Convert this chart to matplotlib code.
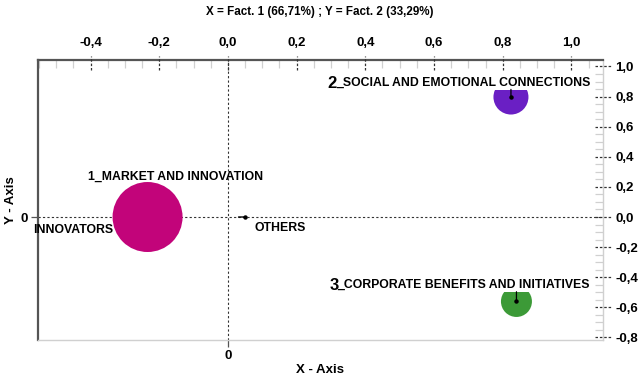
import matplotlib
matplotlib.use("Agg")
import matplotlib.pyplot as plt
from matplotlib import font_manager
import matplotlib.transforms as mtransforms
from matplotlib.ticker import MultipleLocator, FixedLocator

# ---------------- data ----------------
title = "X = Fact. 1 (66,71%) ; Y = Fact. 2 (33,29%)"
cluster_num = ["1", "2", "3"]
cluster_names = ["_MARKET AND INNOVATION",
                 "_SOCIAL AND EMOTIONAL CONNECTIONS",
                 "_CORPORATE BENEFITS AND INITIATIVES"]
cluster_x = [-0.234, 0.824, 0.840]
cluster_y = [0.0, 0.797, -0.561]
cluster_weight = [1.0, 0.25, 0.196]          # relative bubble area
group_names = ["INNOVATORS", "OTHERS"]
group_x = [-0.234, 0.049]
group_y = [0.0, 0.0]
xticks = [-0.4, -0.2, 0.0, 0.2, 0.4, 0.6, 0.8, 1.0]
yticks = [-0.8, -0.6, -0.4, -0.2, 0.0, 0.2, 0.4, 0.6, 0.8, 1.0]
x_label = "X - Axis"
y_label = "Y - Axis"

# ---------------- styles ----------------
cluster_colors = ["#C2047A", "#6A1FC4", "#3C9A37"]
names = {f.name for f in font_manager.fontManager.ttflist}
HAS_NARROW = "Liberation Sans Narrow" in names
NARROW = "Liberation Sans Narrow" if HAS_NARROW else "Liberation Sans"
ARIAL = "Liberation Sans"
DARK = "#555555"
LIGHT = "#d0d0d0"
TITLE_SIZE = 10 if HAS_NARROW else 8.4

def fmt(v):
    return f"{v:.1f}".replace(".", ",").replace("-0,0", "0,0")

fig = plt.figure(figsize=(6.4, 3.77), dpi=100)
W, H = 640, 377
L, R, T, B = 38, 603, 60, 340
ax = fig.add_axes([L / W, 1 - B / H, (R - L) / W, (B - T) / H])
ax.set_xlim(-0.553, 1.092)
ax.set_ylim(-0.817, 1.043)

# spines
for s in ("left", "top"):
    ax.spines[s].set_color(DARK)
    ax.spines[s].set_linewidth(1.6)
for s in ("bottom", "right"):
    ax.spines[s].set_color(LIGHT)
    ax.spines[s].set_linewidth(1.0)

# top axis
ax.xaxis.tick_top()
ax.xaxis.set_major_locator(FixedLocator(xticks))
ax.set_xticklabels([fmt(v) for v in xticks], fontfamily=NARROW,
                   fontweight="bold", fontsize=9.5)
ax.xaxis.set_minor_locator(MultipleLocator(0.05))
ax.tick_params(axis="x", which="major", length=0, pad=8)
ax.tick_params(axis="x", which="minor", direction="in", length=6,
               color=LIGHT, width=0.9, top=True, bottom=False)

# right axis
ax.yaxis.tick_right()
ax.yaxis.set_major_locator(FixedLocator(yticks))
ax.set_yticklabels([fmt(v) for v in yticks], fontfamily=NARROW,
                   fontweight="bold", fontsize=9.5)
ax.yaxis.set_minor_locator(MultipleLocator(0.05))
ax.tick_params(axis="y", which="major", length=0, pad=9)
ax.tick_params(axis="y", which="minor", direction="in", length=6,
               color=LIGHT, width=0.9, right=True, left=False)

# dashed major tick marks
bx = mtransforms.blended_transform_factory(ax.transData, ax.transAxes)
by = mtransforms.blended_transform_factory(ax.transAxes, ax.transData)
for v in xticks:
    ax.plot([v, v], [0.965, 1.015], transform=bx, ls=(0, (2, 1.5)),
            color="#333333", lw=0.9, clip_on=False, zorder=5)
for v in yticks:
    ax.plot([0.985, 1.016], [v, v], transform=by, ls=(0, (2, 1.5)),
            color="#333333", lw=0.9, clip_on=False, zorder=5)

# reference lines
ax.axvline(0, ls=(0, (2, 2)), color="#333333", lw=0.8, zorder=1)
ax.axhline(0, ls=(0, (2, 2)), color="#333333", lw=0.8, zorder=1)

# left "0" axis
sy = ax.secondary_yaxis("left")
sy.set_yticks([0])
sy.set_yticklabels(["0"], fontfamily=NARROW, fontweight="bold", fontsize=9.5)
sy.tick_params(length=5, color=DARK, width=0.9, pad=2)
for s in sy.spines.values():
    s.set_visible(False)
sy.set_ylabel(y_label, fontfamily=NARROW, fontweight="bold", fontsize=9.5,
              labelpad=3)

# bottom "0" axis
sx = ax.secondary_xaxis("bottom")
sx.set_xticks([0])
sx.set_xticklabels(["0"], fontfamily=NARROW, fontweight="bold", fontsize=9.5)
sx.tick_params(length=5, color=DARK, width=0.9, pad=2)
for s in sx.spines.values():
    s.set_visible(False)
sx.set_xlabel(x_label, fontfamily=NARROW, fontweight="bold", fontsize=9.5,
              labelpad=1.5)

# bubbles
base = 2540
ax.scatter(cluster_x, cluster_y, s=[base * w for w in cluster_weight],
           c=cluster_colors, edgecolors="none", zorder=2)

# cluster labels
lab_kw = dict(fontfamily=ARIAL, fontweight="bold", fontsize=8.8,
              textcoords="offset points", zorder=6)
ax.annotate(cluster_num[0] + cluster_names[0],
            xy=(cluster_x[0], cluster_y[0]), xytext=(20, 29),
            ha="center", va="center", **lab_kw)
for i, dx, dy in ((1, 57, 10.5), (2, 53, 12)):
    t = ax.annotate(cluster_names[i], xy=(cluster_x[i], cluster_y[i]),
                    xytext=(dx, dy), ha="right", va="center",
                    bbox=dict(fc="white", ec="none", pad=0.8), **lab_kw)
    ax.annotate(cluster_num[i], xy=(0.005, 0.42), xycoords=t, ha="right",
                va="center", fontfamily=ARIAL, fontweight="bold",
                fontsize=12, zorder=6)
    ax.annotate("", xy=(cluster_x[i], cluster_y[i]), xytext=(0, dy - 5),
                textcoords="offset points",
                arrowprops=dict(arrowstyle="-", lw=0.9, color="black",
                                shrinkA=0, shrinkB=0), zorder=7)
    ax.plot(cluster_x[i], cluster_y[i], "o", ms=2.2, color="black", zorder=7)

# group labels
ax.annotate(group_names[0], xy=(group_x[0], group_y[0]), xytext=(-24.5, -9),
            ha="right", va="center", **lab_kw)
ax.annotate(group_names[1], xy=(group_x[1], group_y[1]), xytext=(7, -8),
            ha="left", va="center", **lab_kw)
ax.annotate("", xy=(group_x[1], group_y[1]), xytext=(-4.5, 0),
            textcoords="offset points",
            arrowprops=dict(arrowstyle="-", lw=1.0, color="black",
                            shrinkA=0, shrinkB=0), zorder=7)
ax.plot(group_x[1], group_y[1], "o", ms=2.2, color="black", zorder=7)

fig.text(0.5, 1 - 12 / H, title, ha="center", va="center",
         fontfamily=NARROW, fontweight="bold", fontsize=TITLE_SIZE)

fig.savefig("out.png", dpi=100)
